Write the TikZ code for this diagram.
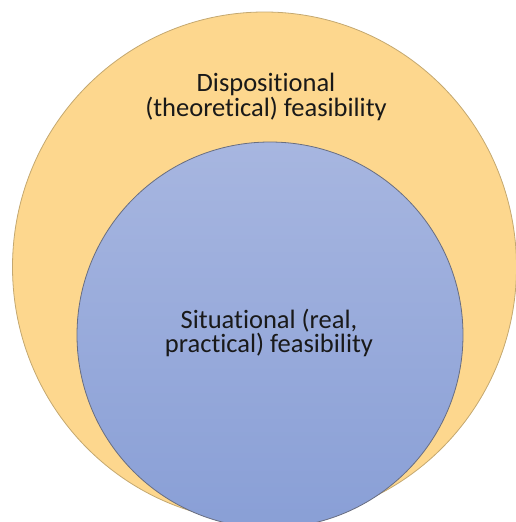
\documentclass[tikz,border=0pt]{standalone}
\usepackage{fontspec}
\setmainfont[Ligatures={NoCommon}]{Carlito}
\usetikzlibrary{shapes.geometric}
\definecolor{discgold}{RGB}{253,215,142}
\definecolor{discrim}{RGB}{196,168,112}
\definecolor{bluetop}{RGB}{167,182,224}
\definecolor{bluebot}{RGB}{137,159,214}
\definecolor{bluerim}{RGB}{105,110,128}
\tikzset{
  outerdisc/.style={ellipse, draw=discrim, fill=discgold, line width=0.8pt, minimum width=504pt, minimum height=510pt, inner sep=0pt},
  innerdisc/.style={circle, draw=bluerim, top color=bluetop, bottom color=bluebot, line width=0.8pt, minimum size=386pt, inner sep=0pt},
  discword/.style={align=center, text=black!90, font=\fontsize{26.5}{24.5}\selectfont}
}

\begin{document}
\begin{tikzpicture}[x=1pt,y=-1pt]
\useasboundingbox (0,0) rectangle (516,522); \clip (0,0) rectangle (516,522);
\node[outerdisc] (disp) at (264.5,267) {}; \node[innerdisc] (sit) at (270,335) {};
\node[discword] (disptext) at (266,97) {Dispositional\\(theoretical) feasibility};
\node[discword] (sittext) at (269,333) {Situational (real,\\practical) feasibility};
\end{tikzpicture}
\end{document}
